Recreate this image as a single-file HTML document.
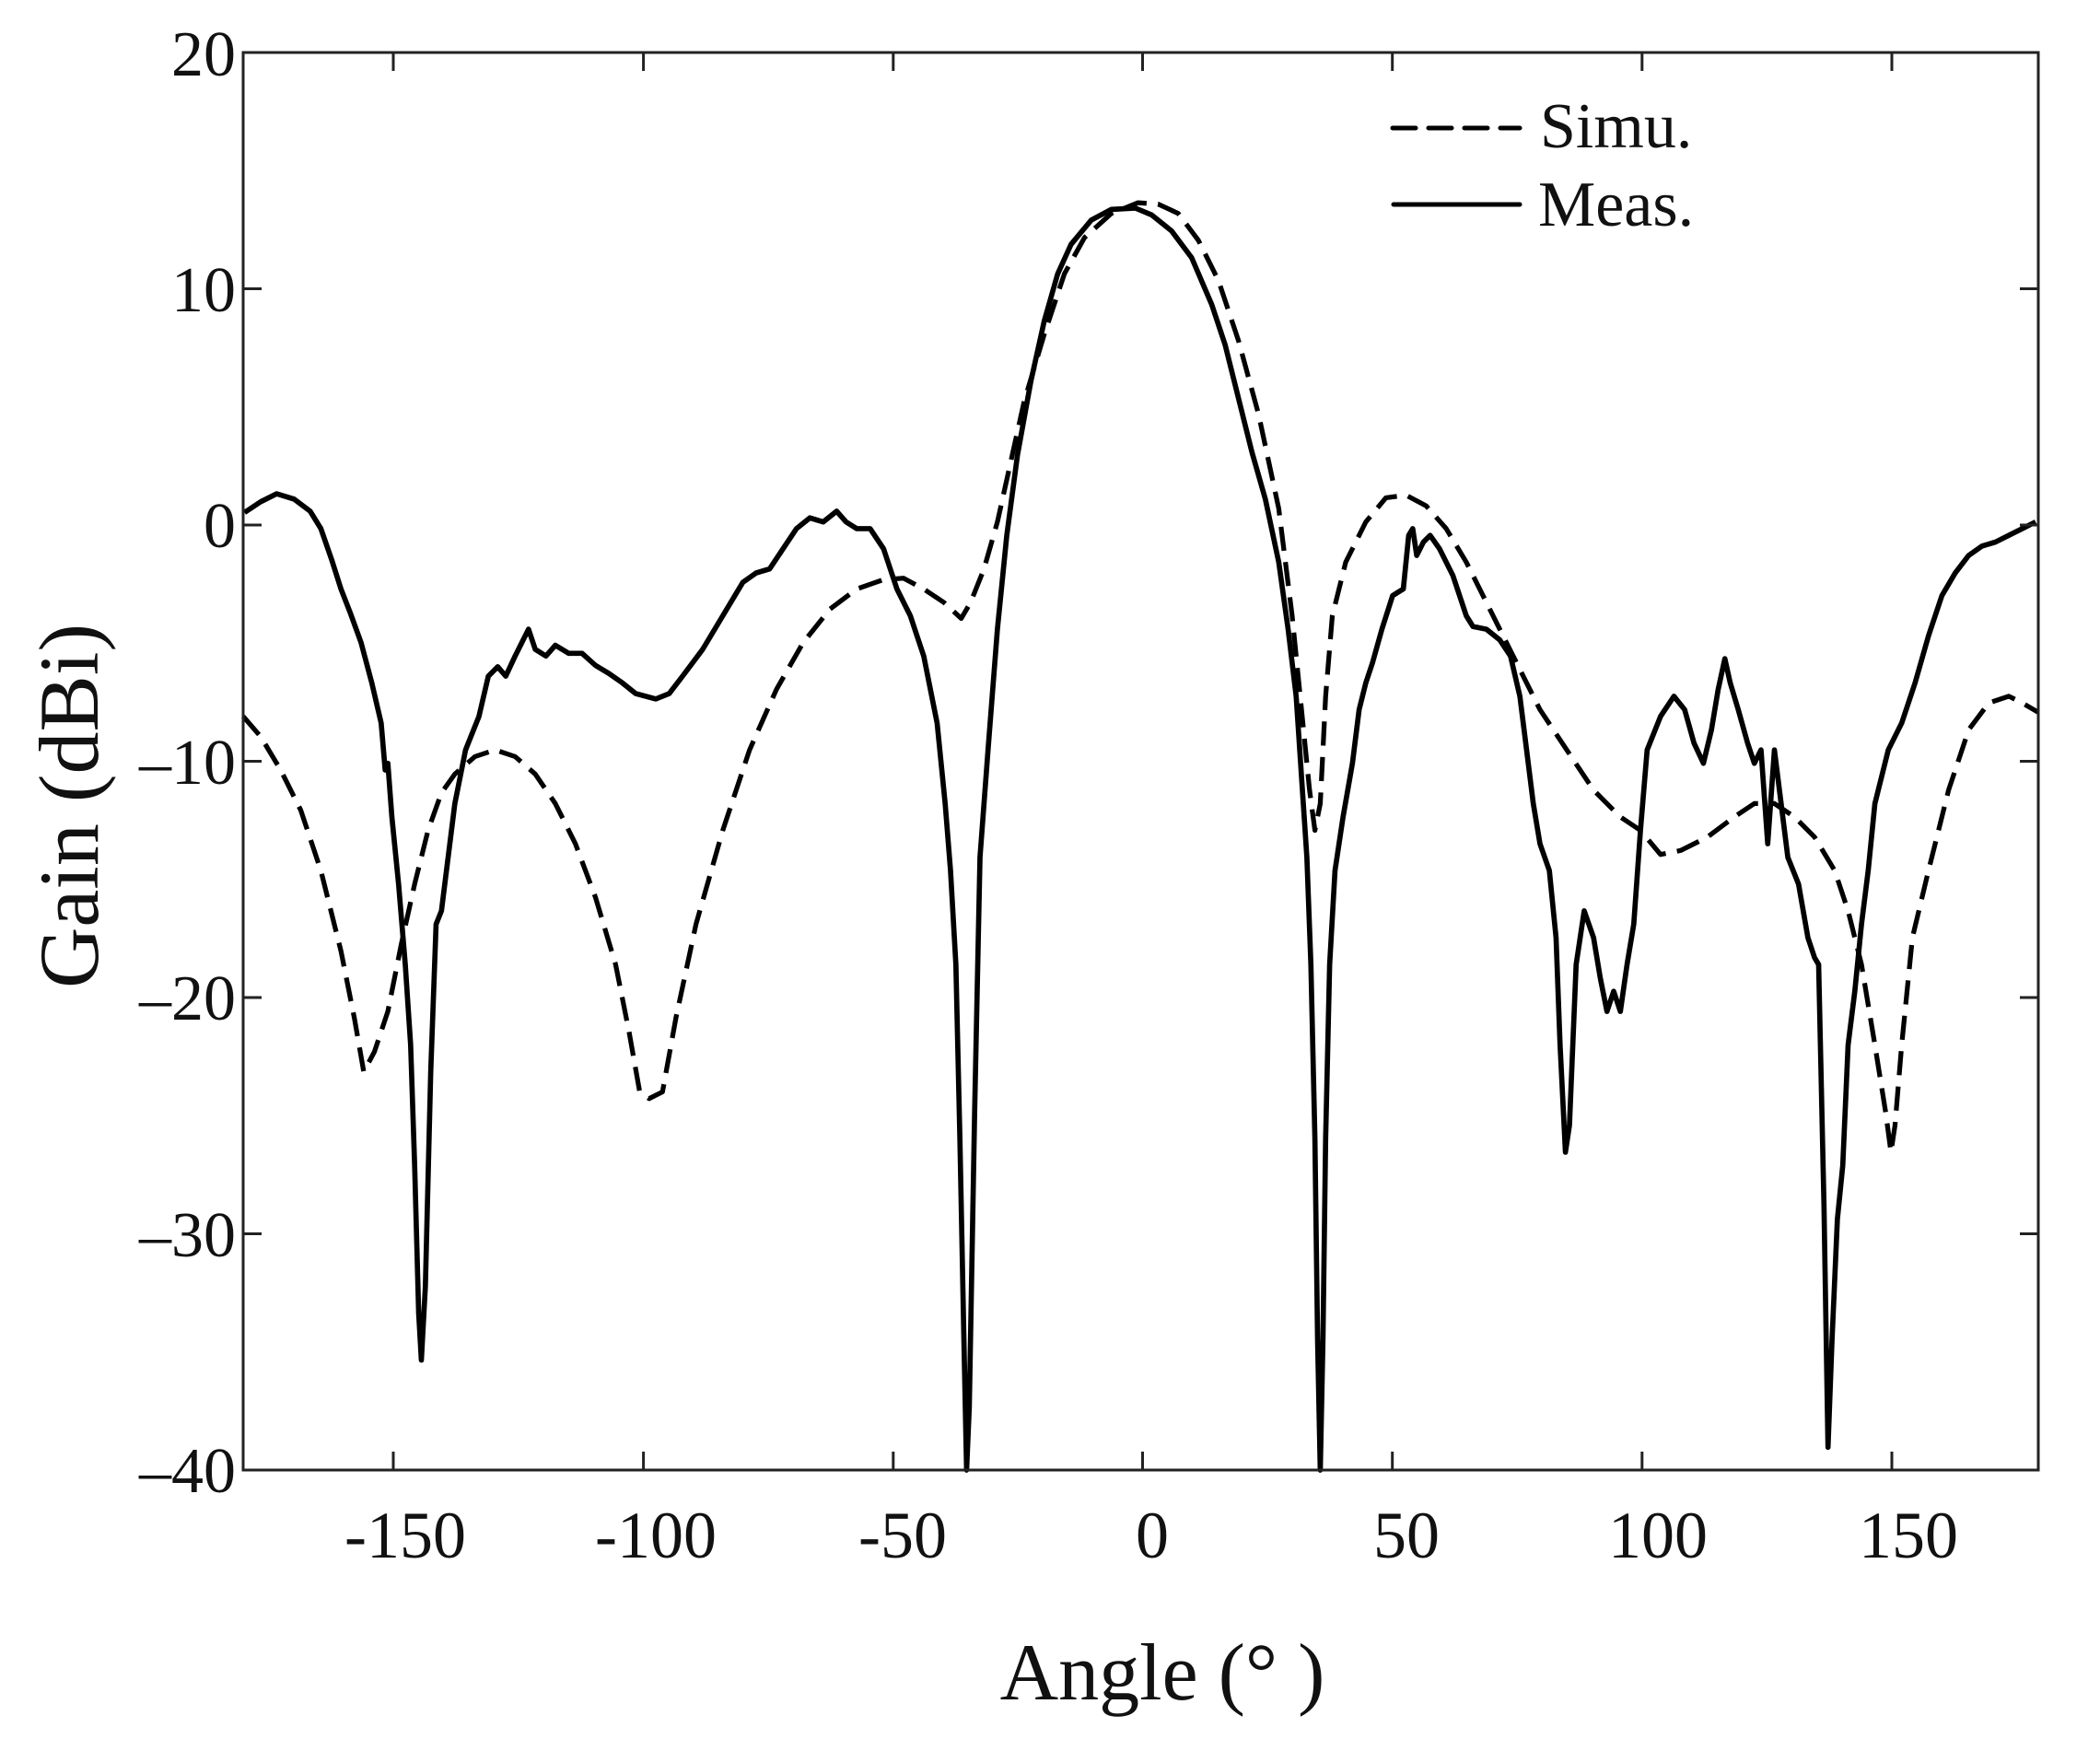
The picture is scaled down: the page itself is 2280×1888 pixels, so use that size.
<!DOCTYPE html>
<html><head><meta charset="utf-8"><style>
html,body{margin:0;padding:0;background:#fff;}
svg{display:block;}
text{font-family:"Liberation Serif",serif;fill:#111;}
</style></head><body>
<svg width="2280" height="1888" viewBox="0 0 2280 1888" xmlns="http://www.w3.org/2000/svg">
<rect width="2280" height="1888" fill="#fff"/>
<g transform="matrix(1.4545 0 0 1.456 -0.7 -1.2)" fill="none" stroke="#000" stroke-linejoin="round">
<polyline stroke-width="3.9" points="183,383 195,375 207,369 220,373 232,382 240,395 248,418 255,440 262,458 270,480 278,510 285,540 288,575 290,570 293,610 298,660 303,720 307,780 310,870 313,980 315,1015 318,960 322,800 326,690 330,680 335,640 340,600 348,560 358,535 365,505 372,498 378,505 385,490 390,480 395,470 400,485 408,490 415,482 425,488 435,488 445,497 455,503 465,510 475,518 490,522 500,518 510,505 525,485 540,460 555,435 565,428 575,425 585,410 595,395 605,387 615,390 625,382 632,390 640,395 650,395 660,410 670,440 680,460 690,490 700,540 706,600 710,650 714,720 717,850 720,1000 722,1097 724,1050 728,830 732,640 738,560 745,470 752,400 760,340 770,285 780,240 790,205 800,183 815,165 830,157 848,156 860,161 875,173 890,193 905,228 915,258 925,298 935,338 945,373 955,420 962,470 968,520 972,580 976,640 979,720 982,850 984,1000 986,1097 988,1000 990,850 993,720 997,650 1003,610 1010,570 1015,530 1020,510 1025,495 1032,470 1040,445 1048,440 1052,400 1055,395 1058,415 1063,405 1068,400 1075,410 1085,430 1095,460 1100,468 1110,470 1120,478 1128,490 1135,520 1140,560 1145,600 1150,630 1157,650 1162,700 1165,780 1169,860 1172,840 1177,720 1183,680 1190,700 1195,730 1200,755 1205,740 1210,755 1215,720 1220,690 1225,620 1230,560 1240,535 1250,520 1258,530 1265,555 1272,570 1278,545 1283,515 1288,492 1292,510 1298,530 1305,555 1310,570 1315,560 1320,630 1325,560 1330,600 1335,640 1343,660 1350,700 1355,715 1358,720 1362,900 1365,1080 1368,1000 1372,910 1376,870 1380,780 1385,740 1390,690 1395,650 1400,600 1410,560 1420,540 1430,510 1440,475 1450,445 1460,428 1470,415 1480,408 1490,405 1500,400 1510,395 1520,390"/>
<polyline stroke-width="3.6" stroke-dasharray="18,8.5" points="182,535 195,550 210,575 225,605 240,650 255,710 265,760 272,800 280,785 290,755 300,705 310,660 320,620 330,592 340,578 355,565 370,560 385,565 400,578 415,600 430,630 445,670 460,720 470,770 478,815 485,820 495,815 505,760 520,690 540,620 560,560 580,515 600,480 620,455 640,440 660,433 675,432 690,440 705,450 718,462 725,450 735,425 745,390 755,345 765,300 780,250 795,205 810,178 830,160 850,152 865,153 880,160 895,180 910,210 925,255 940,310 955,380 965,460 972,530 978,590 982,620 986,600 990,520 995,460 1005,420 1020,390 1035,372 1050,370 1065,378 1080,395 1095,420 1110,450 1130,490 1150,530 1170,560 1190,590 1210,610 1225,620 1240,638 1255,635 1275,625 1295,610 1310,600 1325,600 1340,610 1355,625 1370,650 1380,680 1390,720 1400,780 1408,830 1412,860 1415,840 1420,780 1428,700 1440,650 1455,590 1470,545 1485,525 1500,520 1510,525 1522,532"/>
</g>
<rect x="264" y="57" width="1949" height="1539" fill="none" stroke="#222" stroke-width="3"/>
<g stroke="#222" stroke-width="3">
<line x1="427" y1="1596" x2="427" y2="1576"/><line x1="427" y1="57" x2="427" y2="77"/>
<line x1="698.6" y1="1596" x2="698.6" y2="1576"/><line x1="698.6" y1="57" x2="698.6" y2="77"/>
<line x1="969.8" y1="1596" x2="969.8" y2="1576"/><line x1="969.8" y1="57" x2="969.8" y2="77"/>
<line x1="1240.5" y1="1596" x2="1240.5" y2="1576"/><line x1="1240.5" y1="57" x2="1240.5" y2="77"/>
<line x1="1511.7" y1="1596" x2="1511.7" y2="1576"/><line x1="1511.7" y1="57" x2="1511.7" y2="77"/>
<line x1="1782.8" y1="1596" x2="1782.8" y2="1576"/><line x1="1782.8" y1="57" x2="1782.8" y2="77"/>
<line x1="2054" y1="1596" x2="2054" y2="1576"/><line x1="2054" y1="57" x2="2054" y2="77"/>
<line x1="264" y1="313.5" x2="284" y2="313.5"/><line x1="2213" y1="313.5" x2="2193" y2="313.5"/>
<line x1="264" y1="570" x2="284" y2="570"/><line x1="2213" y1="570" x2="2193" y2="570"/>
<line x1="264" y1="826.5" x2="284" y2="826.5"/><line x1="2213" y1="826.5" x2="2193" y2="826.5"/>
<line x1="264" y1="1083" x2="284" y2="1083"/><line x1="2213" y1="1083" x2="2193" y2="1083"/>
<line x1="264" y1="1339.5" x2="284" y2="1339.5"/><line x1="2213" y1="1339.5" x2="2193" y2="1339.5"/>
</g>
<g font-size="70" text-anchor="end">
<text x="256" y="82">20</text>
<text x="256" y="338">10</text>
<text x="256" y="594">0</text>
<text x="256" y="851">–10</text>
<text x="256" y="1107">–20</text>
<text x="256" y="1364">–30</text>
<text x="256" y="1620">–40</text>
</g>
<g font-size="72" text-anchor="middle">
<text x="440" y="1691">-150</text>
<text x="712" y="1691">-100</text>
<text x="980" y="1691">-50</text>
<text x="1251" y="1691">0</text>
<text x="1527" y="1691">50</text>
<text x="1800" y="1691">100</text>
<text x="2072" y="1691">150</text>
</g>
<text x="1262" y="1845" font-size="88" text-anchor="middle">Angle (° )</text>
<text transform="translate(106,875) rotate(-90)" font-size="92" text-anchor="middle">Gain (dBi)</text>
<line x1="1512" y1="139" x2="1650" y2="139" stroke="#000" stroke-width="5" stroke-dasharray="25,14" stroke-linecap="round"/>
<line x1="1513" y1="222" x2="1650" y2="222" stroke="#000" stroke-width="5" stroke-linecap="round"/>
<text x="1672" y="160" font-size="70">Simu.</text>
<text x="1670" y="245" font-size="70">Meas.</text>
</svg>
</body></html>
